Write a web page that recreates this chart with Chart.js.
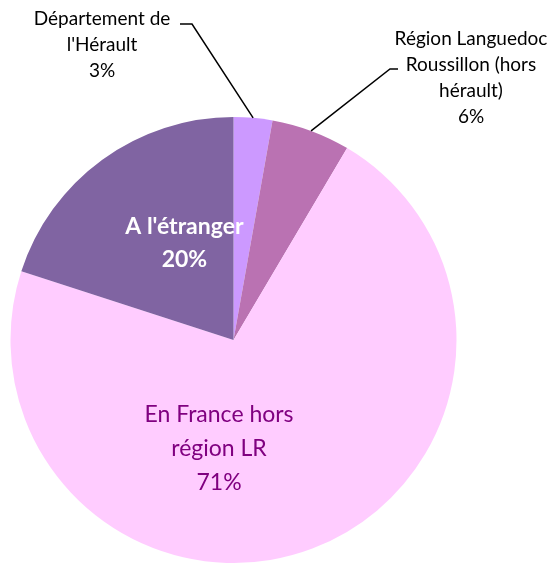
<!DOCTYPE html>
<html>
<head>
<meta charset="utf-8">
<script src="https://cdn.jsdelivr.net/npm/chart.js@4"></script>
<style>
  body { margin: 0; background: #ffffff; }
  #wrap { width: 560px; height: 563px; }
</style>
</head>
<body>
<div id="wrap"><canvas id="pie" width="560" height="563"></canvas></div>
<script>
// slices, clockwise from 12 o'clock
const labels = ["Département de l'Hérault", "Région Languedoc Roussillon (hors hérault)", "En France hors région LR", "A l'étranger"];
const values = [2.8, 5.7, 71.4, 20.0];
const colors = ['#CC99FF', '#BA72B2', '#FFCCFF', '#8064A2'];

// how each label is written (lines of text, percent added below)
const labelLines = [
    ["Département de", "l'Hérault"],
    ["Région Languedoc", "Roussillon (hors", "hérault)"],
    ["En France hors", "région LR"],
    ["A l'étranger"]
];

const total = values.reduce((a, b) => a + b, 0);
const pct = values.map(v => Math.round(v / total * 100) + '%');

const FONT = 'Lato, "Open Sans", sans-serif';

const labelPlugin = {
    id: 'sliceLabels',
    afterDatasetsDraw(chart) {
        const ctx = chart.ctx;
        const arcs = chart.getDatasetMeta(0).data;
        ctx.save();
        ctx.textAlign = 'center';
        ctx.textBaseline = 'middle';

        // outside labels with leader lines
        const outside = [
            { i: 0, x: 102, y: 19, lh: 26, stub: [[180, 24], [192, 24]] },
            { i: 1, x: 471, y: 39, lh: 26, stub: [[398, 69], [390, 69]] }
        ];
        outside.forEach(o => {
            const arc = arcs[o.i];
            const mid = (arc.startAngle + arc.endAngle) / 2;
            const ex = arc.x + arc.outerRadius * Math.cos(mid);
            const ey = arc.y + arc.outerRadius * Math.sin(mid);
            ctx.strokeStyle = '#000000';
            ctx.lineWidth = 1.5;
            ctx.beginPath();
            ctx.moveTo(o.stub[0][0], o.stub[0][1]);
            ctx.lineTo(o.stub[1][0], o.stub[1][1]);
            ctx.lineTo(ex, ey);
            ctx.stroke();

            ctx.fillStyle = '#000000';
            ctx.font = '19px ' + FONT;
            const lines = labelLines[o.i].concat([pct[o.i]]);
            lines.forEach((t, k) => ctx.fillText(t, o.x, o.y + k * o.lh));
        });

        // inside labels, offset from the pie centre in radius units
        const inside = [
            { i: 3, dx: -0.22, dy: -0.51, lh: 33, font: 'bold 23px ' + FONT, color: '#ffffff' },
            { i: 2, dx: -0.065, dy: 0.335, lh: 34, font: '23px ' + FONT, color: '#800080' }
        ];
        inside.forEach(o => {
            const arc = arcs[o.i];
            const r = arc.outerRadius;
            const cx = arc.x + o.dx * r;
            const cy = arc.y + o.dy * r;
            ctx.fillStyle = o.color;
            ctx.font = o.font;
            const lines = labelLines[o.i].concat([pct[o.i]]);
            lines.forEach((t, k) => ctx.fillText(t, cx, cy + k * o.lh));
        });
        ctx.restore();
    }
};

const pieChart = new Chart(document.getElementById('pie').getContext('2d'), {
    type: 'pie',
    data: {
        labels: labels,
        datasets: [{
            data: values,
            backgroundColor: colors,
            borderWidth: 0
        }]
    },
    options: {
        responsive: false,
        animation: false,
        layout: {
            padding: { left: 10, top: 117, right: 103, bottom: 0 }
        },
        plugins: {
            legend: { display: false },
            tooltip: { enabled: false }
        }
    },
    plugins: [labelPlugin]
});
</script>
</body>
</html>
